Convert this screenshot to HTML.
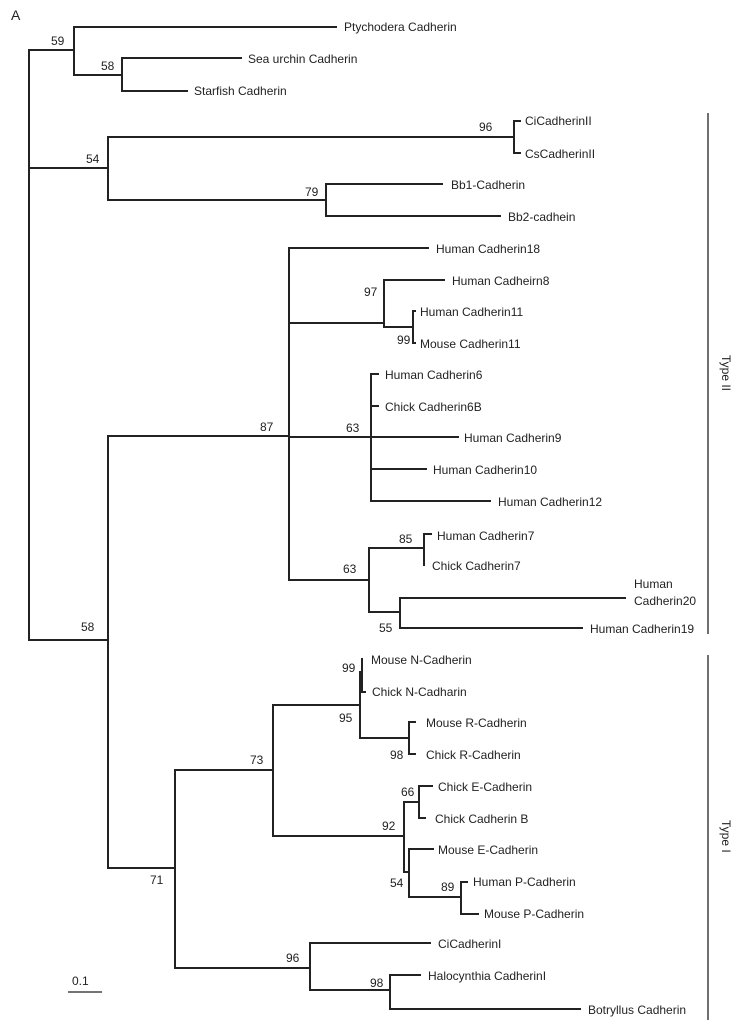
<!DOCTYPE html><html><head><style>body{margin:0;background:#fff}svg text{font-family:"Liberation Sans",sans-serif;font-size:12px;fill:#222}</style></head><body>
<svg width="744" height="1028" xmlns="http://www.w3.org/2000/svg">
<g stroke="#222" stroke-width="2" fill="none" stroke-linecap="square">
<path d="M29 50V640M29 50H74M29 168H108M29 640H108"/>
<path d="M74 27V75M74 27H336M74 75H122M122 58V91M122 58H241M122 91H187"/>
<path d="M108 137V200M108 137H514M108 200H326M514 121V153M514 121H520M514 153H520M326 184V216M326 184H442M326 216H500"/>
<path d="M108 436V868M108 436H289M108 868H175"/>
<path d="M289 248V580M289 248H428M289 323H384M289 437H371M289 580H369"/>
<path d="M384 280V327M384 280H444M384 327H413M413 311V343M413 311H415M413 343H415"/>
<path d="M371 374V501M371 374H378M371 406H378M371 437H458M371 469H426M371 501H490"/>
<path d="M369 548V612M369 548H424M369 612H400M424 534V565M424 534H431M400 598V628M400 598H625M400 628H582"/>
<path d="M175 770V968M175 770H273M175 968H310"/>
<path d="M273 705V836M273 705H360M273 836H404"/>
<path d="M360 672V738M360 672H362M362 659V692M362 692H365M360 738H409M409 722V754M409 722H415M409 754H415"/>
<path d="M404 802V872M404 802H419M419 786V818M419 786H432M419 818H425M404 872H409M409 849V897M409 849H433M409 897H461M461 882V914M461 882H467M461 914H478"/>
<path d="M310 943V990M310 943H430M310 990H390M390 975V1009M390 975H420M390 1009H580"/>
</g>
<g stroke="#222" stroke-width="1.3"><path d="M708 113V634M708 655V1020M68 992H102"/></g>
<text x="11" y="20" style="font-size:14px">A</text>
<text x="344" y="31">Ptychodera Cadherin</text>
<text x="248" y="63">Sea urchin Cadherin</text>
<text x="194" y="95">Starfish Cadherin</text>
<text x="525" y="125">CiCadherinII</text>
<text x="525" y="158">CsCadherinII</text>
<text x="451" y="189">Bb1-Cadherin</text>
<text x="508" y="221">Bb2-cadhein</text>
<text x="436" y="253">Human Cadherin18</text>
<text x="452" y="285">Human Cadheirn8</text>
<text x="420" y="316">Human Cadherin11</text>
<text x="420" y="348">Mouse Cadherin11</text>
<text x="385" y="379">Human Cadherin6</text>
<text x="385" y="411">Chick Cadherin6B</text>
<text x="464" y="442">Human Cadherin9</text>
<text x="433" y="474">Human Cadherin10</text>
<text x="498" y="506">Human Cadherin12</text>
<text x="437" y="540">Human Cadherin7</text>
<text x="432" y="570">Chick Cadherin7</text>
<text x="634" y="588">Human</text>
<text x="634" y="605">Cadherin20</text>
<text x="590" y="633">Human Cadherin19</text>
<text x="371" y="664">Mouse N-Cadherin</text>
<text x="372" y="696">Chick N-Cadharin</text>
<text x="426" y="727">Mouse R-Cadherin</text>
<text x="426" y="759">Chick R-Cadherin</text>
<text x="438" y="791">Chick E-Cadherin</text>
<text x="435" y="823">Chick Cadherin B</text>
<text x="438" y="854">Mouse E-Cadherin</text>
<text x="473" y="886">Human P-Cadherin</text>
<text x="484" y="918">Mouse P-Cadherin</text>
<text x="438" y="948">CiCadherinI</text>
<text x="428" y="980">Halocynthia CadherinI</text>
<text x="588" y="1014">Botryllus Cadherin</text>
<text x="51" y="45">59</text><text x="101" y="70">58</text><text x="86" y="163">54</text>
<text x="479" y="131">96</text><text x="305" y="196">79</text><text x="81" y="631">58</text>
<text x="260" y="431">87</text><text x="364" y="296">97</text><text x="397" y="344">99</text>
<text x="346" y="432">63</text><text x="399" y="543">85</text><text x="343" y="573">63</text>
<text x="379" y="632">55</text><text x="342" y="672">99</text><text x="339" y="722">95</text>
<text x="390" y="759">98</text><text x="250" y="764">73</text><text x="401" y="796">66</text>
<text x="382" y="830">92</text><text x="390" y="887">54</text><text x="441" y="891">89</text>
<text x="150" y="884">71</text><text x="286" y="962">96</text><text x="370" y="987">98</text>
<text x="72" y="985">0.1</text>
<text transform="translate(722,375) rotate(90)" x="-20" y="0">Type II</text>
<text transform="translate(722,838) rotate(90)" x="-18" y="0">Type I</text>
</svg></body></html>
